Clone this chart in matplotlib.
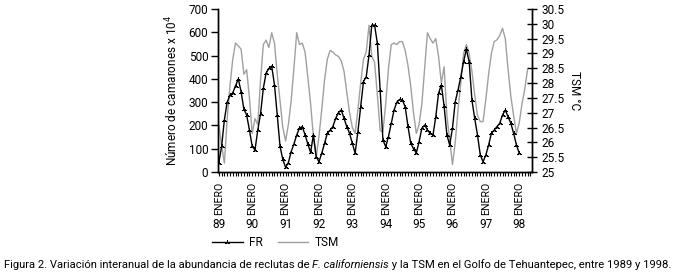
import matplotlib
matplotlib.use("Agg")
import matplotlib.pyplot as plt
import matplotlib.transforms as mtransforms

plt.rcParams['font.family'] = ['Roboto', 'DejaVu Sans']

# Monthly data starting January 1989
fr_values = [40, 110, 225, 300, 330, 340, 370, 400, 345, 270, 245, 180,
             110, 95, 180, 250, 360, 425, 445, 455, 375, 245, 110, 54,
             20, 40, 87, 120, 159, 188, 195, 160, 120, 84, 160, 66,
             44, 80, 123, 166, 180, 195, 230, 255, 266, 231, 195, 166,
             123, 81, 173, 280, 388, 409, 502, 631, 631, 552, 352, 137,
             109, 152, 209, 266, 300, 312, 309, 280, 197, 123, 100, 81,
             130, 188, 202, 180, 166, 159, 237, 338, 374, 283, 159, 116,
             188, 302, 352, 409, 474, 527, 474, 309, 230, 159, 73, 44,
             73, 116, 166, 180, 195, 209, 245, 266, 237, 209, 166, 116,
             81]
tsm_values = [26.6, 25.9, 25.3, 26.8, 27.9, 28.8, 29.35, 29.25, 29.15, 28.3, 28.45, 27.5,
              26.3, 26.8, 26.6, 28.1, 29.3, 29.45, 29.2, 29.7, 29.35, 28.3, 27.4, 26.5,
              26.05, 26.6, 27.4, 28.5, 29.7, 29.3, 29.35, 29.05, 28.2, 27.3, 26.2, 25.5,
              26.2, 27.1, 28.1, 28.8, 29.1, 29.05, 28.95, 28.9, 28.75, 28.4, 27.7, 27.0,
              26.5, 26.3, 27.1, 28.0, 28.8, 29.05, 29.95, 28.9, 28.7, 27.6, 26.4, 26.35,
              27.3, 28.5, 29.3, 29.35, 29.3, 29.4, 29.4, 29.1, 28.6, 27.9, 27.0, 26.3,
              26.6, 27.3, 28.5, 29.7, 29.5, 29.35, 29.5, 28.9, 28.0, 28.55, 26.9, 26.1,
              25.25, 26.0, 27.1, 28.0, 29.0, 29.3, 29.0, 28.4, 27.6, 26.9, 26.7, 26.7,
              27.45, 28.3, 29.0, 29.4, 29.46, 29.6, 29.85, 29.5, 28.45, 27.55, 26.9, 26.3,
              26.65, 27.3, 27.8, 28.45]
year_labels = ['89', '90', '91', '92', '93', '94', '95', '96', '97', '98']
month_label = 'ENERO'

fig = plt.figure(figsize=(6.82, 2.76), dpi=100)
ax = fig.add_axes([218/682, 1 - 172/276, (532-218)/682, (172-9)/276])
ax2 = ax.twinx()

fr_x = list(range(len(fr_values)))
tsm_x = list(range(len(tsm_values)))

l2, = ax2.plot(tsm_x, tsm_values, color='#a0a0a0', lw=1.0, label='TSM')
l1, = ax.plot(fr_x, fr_values, color='black', lw=1.0, marker=(3, 2, 0),
              markersize=3.5, markeredgewidth=0.7, label='FR')
ax.set_zorder(ax2.get_zorder() + 1)
ax.patch.set_visible(False)

ax.set_xlim(-0.3, 112.6)
ax.set_ylim(0, 700)
ax2.set_ylim(25, 30.5)
ax.set_yticks(range(0, 701, 100))
ax2.set_yticks([25 + 0.5*i for i in range(12)])
ax2.set_yticklabels(['25', '25.5', '26', '26.5', '27', '27.5', '28', '28.5',
                     '29', '29.5', '30', '30.5'])

for a in (ax, ax2):
    a.spines['top'].set_visible(False)
    for s in a.spines.values():
        s.set_linewidth(1.0)

ax.tick_params(axis='y', direction='out', length=5, width=1, labelsize=8.5, pad=2)
ax2.tick_params(axis='y', direction='inout', length=7, width=1, labelsize=8.5, pad=3)

ax.set_xticks(range(0, 113), minor=True)
ax.set_xticks([12*i for i in range(len(year_labels))])
ax.set_xticklabels([month_label]*len(year_labels), rotation=90, fontsize=7.6)
ax.tick_params(axis='x', which='both', direction='out', length=3, width=0.8, pad=4)

trans = mtransforms.blended_transform_factory(ax.transData, fig.transFigure)
for i, yl in enumerate(year_labels):
    ax.text(12*i, 1 - 224/276, yl, transform=trans, ha='center', va='center', fontsize=8.5)

ax.set_ylabel('Número de camarones x 10$^4$', fontsize=8.5, labelpad=6)
ax2.set_ylabel('TSM °C', fontsize=8.5, rotation=270, labelpad=12)

fig.legend(handles=[l1, l2], labels=['FR', 'TSM'], ncol=2, frameon=False,
           loc='center left', bbox_to_anchor=(212/682, 1 - 243/276),
           fontsize=8.5, handlelength=2.6, columnspacing=1.3, handletextpad=0.5,
           borderaxespad=0, borderpad=0)

# caption with italic species name, scaled to span the figure width
fig.canvas.draw()
renderer = fig.canvas.get_renderer()
parts = [("Figura 2. Variación interanual de la abundancia de reclutas de ", 'normal'),
         ("F. californiensis", 'italic'),
         (" y la TSM en el Golfo de Tehuantepec, entre 1989 y 1998.", 'normal')]
ycap = 1 - 265/276
target = 676 - 4


def draw_caption(fs):
    xpix = 4
    texts = []
    for txt, style in parts:
        t = fig.text(xpix/682, ycap, txt, fontsize=fs, style=style, ha='left', va='center')
        bb = t.get_window_extent(renderer)
        xpix = bb.x1
        texts.append(t)
    return texts, xpix - 4


texts, w = draw_caption(8.0)
fs = 8.0 * target / w
for t in texts:
    t.remove()
draw_caption(fs)

fig.savefig('out.png', dpi=100)
